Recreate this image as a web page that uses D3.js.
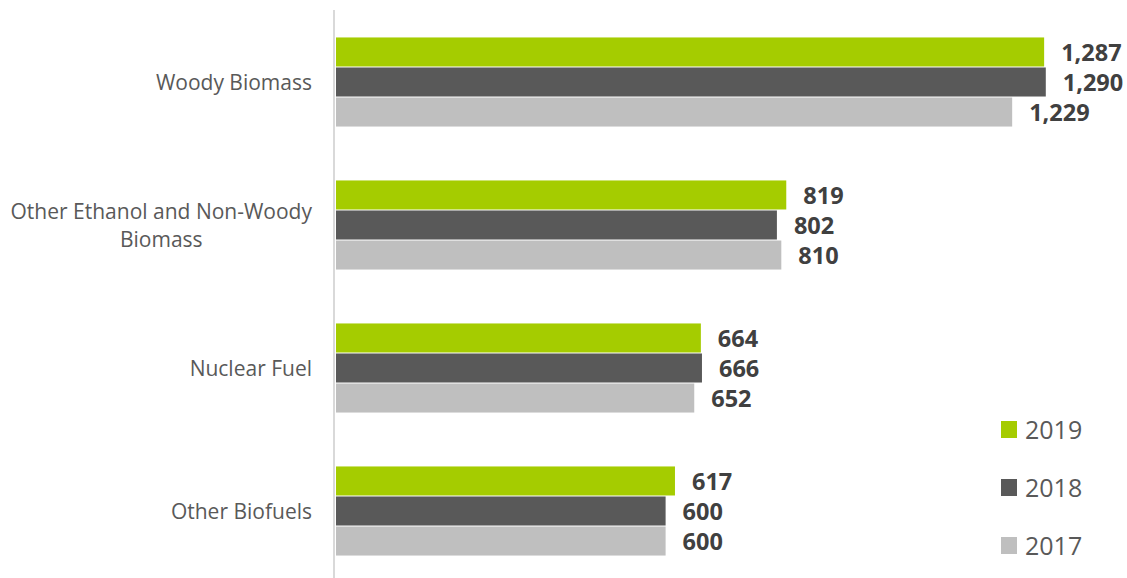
<!DOCTYPE html>
<html>
<head>
<meta charset="utf-8">
<script src="https://cdn.jsdelivr.net/npm/d3@7"></script>
<style>
  body { margin: 0; background: #fff; }
  svg { display: block; font-family: "Open Sans", sans-serif; }
</style>
</head>
<body>
<svg width="1127" height="578"></svg>
<script>
const categories = ['Woody Biomass', 'Other Ethanol and Non-Woody Biomass', 'Nuclear Fuel', 'Other Biofuels'];
const years = ['2019', '2018', '2017'];
const values2019 = [1287, 819, 664, 617];
const values2018 = [1290, 802, 666, 600];
const values2017 = [1229, 810, 652, 600];
const colors = ['#a5cc00', '#595959', '#bfbfbf'];

const seriesValues = [values2019, values2018, values2017];

const svg = d3.select('svg');
const x0 = 335;

// scales
const x = d3.scaleLinear().domain([0, 1290]).range([x0, x0 + 1290 * 0.551]);
const y = d3.scaleBand().domain(categories).range([11, 583]).paddingInner(0.37).paddingOuter(0.185);
const ySub = d3.scaleBand().domain(years).range([0, y.bandwidth()]);

// axis line
svg.append('line')
  .attr('x1', x0 - 1).attr('x2', x0 - 1)
  .attr('y1', 10).attr('y2', 578)
  .attr('stroke', '#d9d9d9')
  .attr('stroke-width', 2);

// bars
const groups = svg.selectAll('.grp')
  .data(categories)
  .enter()
  .append('g')
  .attr('class', 'grp')
  .attr('transform', d => `translate(0, ${y(d)})`);

years.forEach((yr, si) => {
  groups.append('rect')
    .attr('x', x0 + 1)
    .attr('y', ySub(yr))
    .attr('height', ySub.bandwidth() - 1)
    .attr('width', (d, i) => x(seriesValues[si][i]) - x0 - 1)
    .attr('fill', colors[si]);

  groups.append('text')
    .attr('x', (d, i) => x(seriesValues[si][i]) + 17)
    .attr('y', ySub(yr) + ySub.bandwidth() / 2)
    .attr('dy', '0.36em')
    .attr('font-size', 23.5)
    .attr('font-weight', 'bold')
    .attr('fill', '#404040')
    .text((d, i) => d3.format(',')(seriesValues[si][i]));
});

// category labels (wrap the long one)
const catLabel = svg.selectAll('.cat')
  .data(categories)
  .enter()
  .append('text')
  .attr('class', 'cat')
  .attr('font-size', 21)
  .attr('fill', '#595959');

catLabel.each(function (d) {
  const t = d3.select(this);
  const cy = y(d) + y.bandwidth() / 2;
  const lines = d.length > 20 ? ['Other Ethanol and Non-Woody', 'Biomass'] : [d];
  if (lines.length === 1) {
    t.attr('x', 312).attr('y', cy).attr('dy', '0.35em')
      .attr('text-anchor', 'end').text(d);
  } else {
    t.attr('text-anchor', 'middle');
    const first = t.append('tspan').text(lines[0]).attr('y', cy - 14).attr('dy', '0.35em');
    const w = first.node().getComputedTextLength();
    const cx = 312 - w / 2;
    first.attr('x', cx);
    t.append('tspan').text(lines[1]).attr('x', cx).attr('y', cy + 14).attr('dy', '0.35em');
  }
});

// legend
const legend = svg.selectAll('.leg')
  .data(years)
  .enter()
  .append('g')
  .attr('class', 'leg')
  .attr('transform', (d, i) => `translate(1001, ${421 + i * 58})`);

legend.append('rect')
  .attr('width', 16).attr('height', 17)
  .attr('fill', (d, i) => colors[i]);

legend.append('text')
  .attr('x', 24)
  .attr('y', 9)
  .attr('dy', '0.36em')
  .attr('font-size', 25)
  .attr('fill', '#595959')
  .text(d => d);
</script>
</body>
</html>
